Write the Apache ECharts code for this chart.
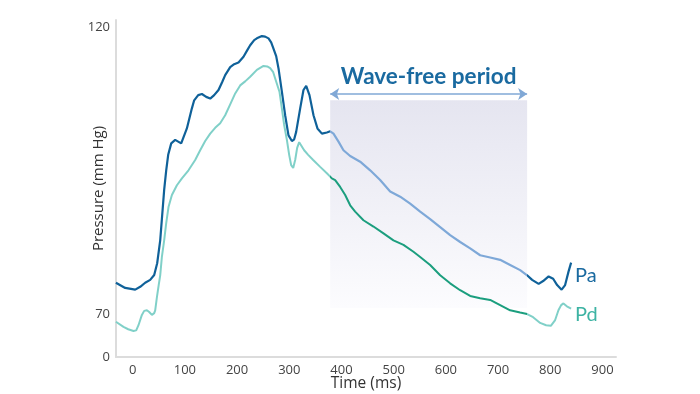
<!DOCTYPE html>
<html><head><meta charset="utf-8">
<script src="https://cdn.jsdelivr.net/npm/echarts@6/dist/echarts.min.js"></script>
<style>html,body{margin:0;padding:0;background:#fff}#c{width:700px;height:394px}</style>
</head><body><div id="c"></div>
<script>
// Time (ms) / pressure (mm Hg) samples
const paTime = [-32.2,-14.4,4.8,14.4,23.9,33.5,41.2,46.9,52.7,56.5,60.3,64.2,68.0,73.8,81.4,85.2,92.9,103.8,113.4,117.8,125.5,132.6,140.8,148.5,156.1,164.4,171.5,177.2,186.8,194.4,202.7,212.3,219.3,225.1,232.8,237.9,247.5,253.8,260.2,265.3,269.7,274.9,279.3,285.8,292.1,298.5,305.0,309.4,313.2,320.9,327.2,332.4,338.7,346.4,354.0,362.5,372.0,378.4,384.7,394.3,403.8,416.7,435.8,455.0,474.1,493.3,512.5,531.6,550.8,569.9,589.1,608.2,627.4,646.6,665.7,684.9,704.0,723.2,742.3,755.7,765.3,777.8,786.4,796.9,805.6,813.2,821.8,828.5,834.9,840.0];
const paValues = [75.5,74.6,74.3,74.8,75.5,76.0,76.85,78.9,82.9,87.3,91.7,95.1,97.8,99.8,100.4,100.5,99.8,102.4,105.9,107.3,108.2,108.4,107.9,107.6,108.2,109.1,110.5,111.7,113.1,113.6,113.9,114.9,116.0,116.9,117.8,118.1,118.5,118.4,118.1,117.4,116.3,115.0,112.9,108.8,104.7,101.2,100.2,100.5,101.8,105.9,109.1,109.8,108.2,104.7,102.4,101.5,101.7,101.9,101.5,100.1,98.6,97.6,96.6,95.1,93.4,91.4,90.5,89.3,87.9,86.6,85.2,83.8,82.6,81.5,80.3,79.9,79.5,78.6,77.7,76.8,76.0,75.3,75.8,76.6,76.2,75.1,74.3,75.1,77.4,79.0];
const pdTime = [-32.2,-17.6,-8.6,1.5,6.7,11.1,17.6,22.0,27.2,31.6,36.8,41.2,43.1,46.4,49.8,52.7,55.9,60.3,64.2,68.6,75.1,84.7,94.3,106.9,119.7,129.3,138.9,148.5,158.0,167.6,177.2,186.8,196.4,205.9,215.5,225.1,237.9,250.6,257.7,263.4,269.2,273.0,281.2,285.8,290.2,295.4,299.8,303.6,307.5,311.3,315.1,319.0,322.8,328.5,336.2,345.8,359.2,372.0,381.6,387.9,397.5,407.1,416.7,426.2,442.1,461.3,480.5,499.6,518.8,537.9,550.8,569.9,589.1,608.2,627.4,646.6,665.7,684.9,704.0,723.2,742.3,755.7,767.2,780.7,792.1,801.1,809.4,815.7,820.9,825.3,831.8,840.0];
const pdValues = [68.7,67.8,67.4,67.1,67.2,68.1,69.9,70.6,70.7,70.4,69.9,70.2,70.7,73.0,75.1,76.8,80.0,82.9,85.9,88.7,90.8,92.5,93.7,95.1,96.9,98.6,100.2,101.5,102.5,103.3,104.7,106.6,108.5,109.9,110.6,111.4,112.6,113.3,113.2,112.9,112.2,111.1,108.8,105.9,103.0,100.4,97.8,96.0,95.5,96.9,99.0,100.0,99.7,98.6,97.8,96.9,95.7,94.6,93.7,93.4,92.2,90.8,89.0,87.9,86.4,85.3,84.1,82.9,82.1,80.9,80.0,78.6,76.8,75.4,74.2,73.2,72.8,72.5,71.6,70.7,70.3,70.05,69.5,68.5,68.1,68.0,69.0,70.7,71.6,71.9,71.4,71.0];
const xTickLabels = [0,100,200,300,400,500,600,700,800,900];
const yTickLabels = ['0','70','120'];
const yTickValues = [62.56,70,120];
const wfpStart = 378.4, wfpEnd = 755.7;   // wave-free period (ms)
const wfpTop = 107.3, wfpBottom = 71.1, wfpArrowY = 108.4;

const FONT = 'Lato';
const AXFONT = 'Open Sans';
const paDark = '#0f6199', paLight = '#7ea8d8';
const pdLight = '#80d0c8', pdDark = '#1b9e7e';

const chart = echarts.init(document.getElementById('c'), null, {renderer:'canvas'});
chart.setOption({
  animation:false,
  textStyle:{fontFamily:FONT},
  grid:{left:116, right:84, top:20, bottom:37, containLabel:false, outerBoundsMode:'none'},
  xAxis:{type:'value', min:-32, max:926,
    axisLine:{show:true, onZero:false, lineStyle:{color:'#dcdcdc', width:2}},
    axisTick:{show:false}, splitLine:{show:false},
    axisLabel:{customValues:xTickLabels, color:'#444', fontSize:13, margin:7, fontFamily:AXFONT},
    name:'Time (ms)', nameLocation:'middle', nameGap:19, nameMoveOverlap:false,
    nameTextStyle:{color:'#333', fontSize:15.5, fontFamily:AXFONT}},
  yAxis:{type:'value', min:62.56, max:121.3,
    axisLine:{show:true, onZero:false, lineStyle:{color:'#dcdcdc', width:2}},
    axisTick:{show:false}, splitLine:{show:false},
    axisLabel:{customValues:yTickValues, color:'#444', fontSize:13, margin:6, fontFamily:AXFONT,
      formatter:function(v){ const i = yTickValues.findIndex(t=>Math.abs(t-v)<0.01); return i>=0?yTickLabels[i]:''; }},
    name:'Pressure (mm Hg)', nameLocation:'middle', nameGap:10, nameMoveOverlap:false,
    nameTextStyle:{color:'#333', fontSize:15, fontFamily:AXFONT}},
  visualMap:[
    {show:false, type:'piecewise', seriesIndex:0, dimension:0,
     pieces:[{lt:wfpStart, color:paDark},{gte:wfpStart, lte:wfpEnd, color:paLight},{gt:wfpEnd, color:paDark}]},
    {show:false, type:'piecewise', seriesIndex:1, dimension:0,
     pieces:[{lt:wfpStart, color:pdLight},{gte:wfpStart, lte:wfpEnd, color:pdDark},{gt:wfpEnd, color:pdLight}]}
  ],
  series:[
    {name:'Pa', type:'line', showSymbol:false, smooth:false, z:3,
     data:paTime.map((t,i)=>[t,paValues[i]]),
     lineStyle:{width:2.2},
     endLabel:{show:true, formatter:'Pa', color:'#1a6aa0', fontSize:20, fontFamily:FONT, offset:[0,13], distance:4},
     markArea:{silent:true, z:1,
       itemStyle:{color:{type:'linear',x:0,y:0,x2:0,y2:1,colorStops:[{offset:0,color:'#e5e5f0'},{offset:1,color:'#fcfcfe'}]}},
       data:[[{coord:[wfpStart,wfpTop]},{coord:[wfpEnd,wfpBottom]}]]},
     markLine:{silent:true, symbol:['arrow','arrow'], symbolSize:[9,9],
       lineStyle:{color:'#80a8d6', width:1.5, type:'solid'},
       label:{show:true, position:'middle', formatter:'Wave-free period', color:'#1a6aa0', fontSize:22.5, fontWeight:'bold', fontFamily:FONT, distance:6},
       data:[[{coord:[wfpStart,wfpArrowY]},{coord:[wfpEnd,wfpArrowY]}]]}
    },
    {name:'Pd', type:'line', showSymbol:false, smooth:false, z:3,
     data:pdTime.map((t,i)=>[t,pdValues[i]]),
     lineStyle:{width:2},
     endLabel:{show:true, formatter:'Pd', color:'#3db3a3', fontSize:20, fontFamily:FONT, offset:[0,6], distance:4}
    }
  ]
});
</script></body></html>
